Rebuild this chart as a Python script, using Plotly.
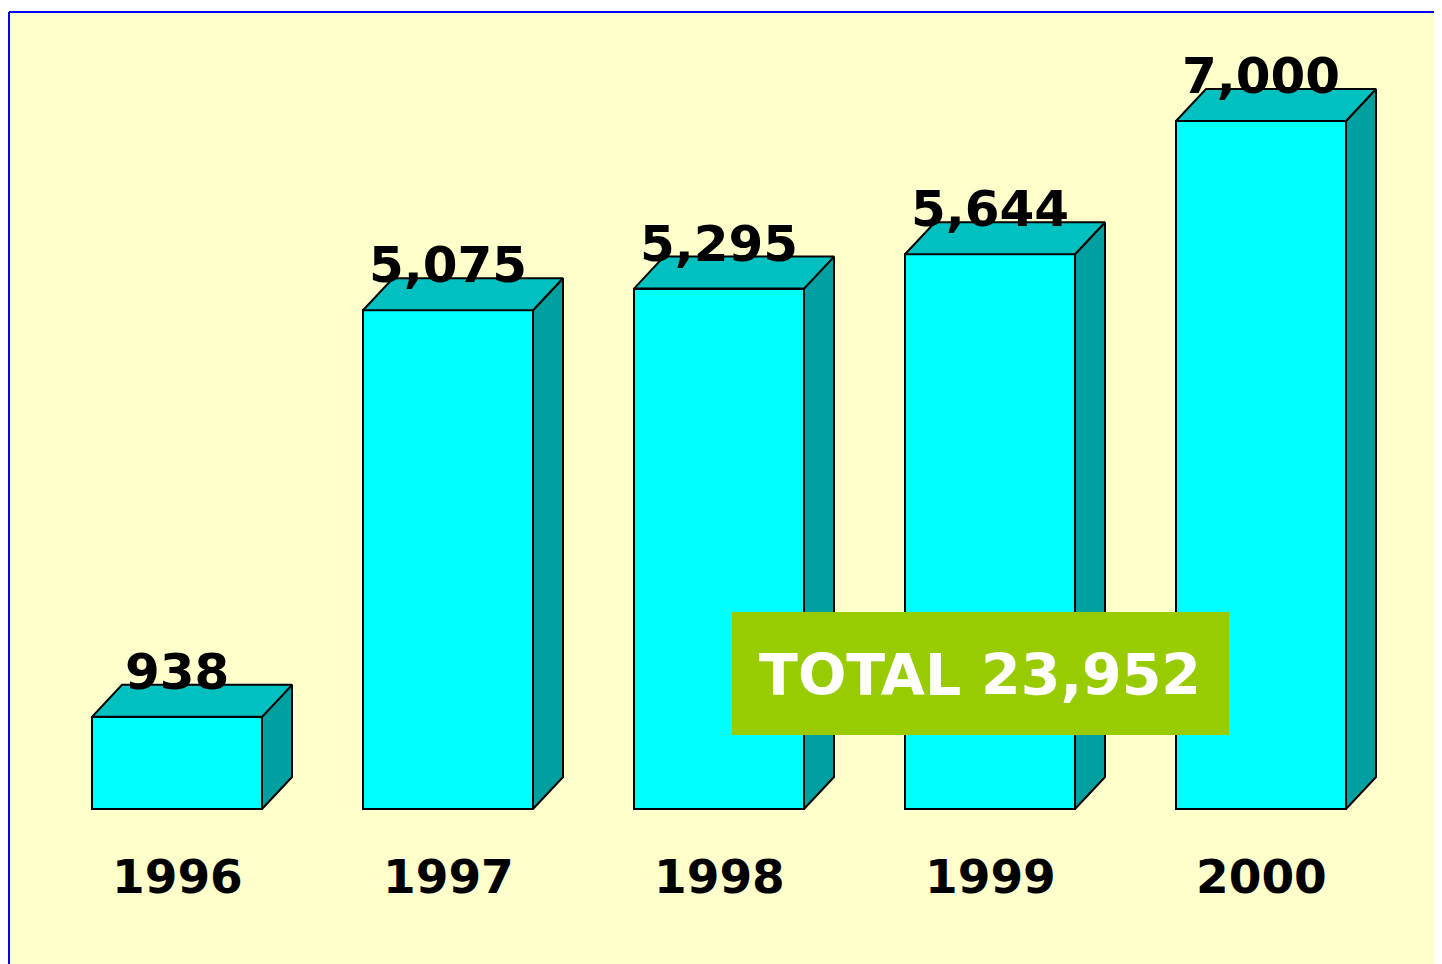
import plotly.graph_objects as go

# ---- data ----
years = ["1996", "1997", "1998", "1999", "2000"]
values = [938, 5075, 5295, 5644, 7000]
value_labels = ["938", "5,075", "5,295", "5,644", "7,000"]
total_label = "TOTAL 23,952"

# ---- layout constants (screen pixels of the reference) ----
OFF = 8                       # page body margin offset
W, H = 1442, 964 - OFF
ML, MT = 9 - OFF, 12 - OFF    # plot area starts here (blue frame)
BASE_PX = 809 - OFF           # pixel row of value 0
PX_PER_UNIT = 688 / 7000      # vertical scale
CAT_PX = 271                  # spacing between categories
FIRST_CENTER_PX = 177 - OFF
BAR_W_PX = 170
DEPTH_X_PX, DEPTH_Y_PX = 30, 32

plot_w = W - ML
plot_h = H - MT
y_span = plot_h / PX_PER_UNIT
y_max = (BASE_PX - MT) / PX_PER_UNIT
y_min = y_max - y_span
x_span = plot_w / CAT_PX
x_min = -(FIRST_CENTER_PX - ML) / CAT_PX
x_max = x_min + x_span

bw = BAR_W_PX / CAT_PX
dx = DEPTH_X_PX / CAT_PX
dy = DEPTH_Y_PX / PX_PER_UNIT

FRONT = "#00FFFF"
TOP = "#00C0C0"
SIDE = "#00A0A0"
EDGE = "#000000"
FONT = "DejaVu Sans"

fig = go.Figure()
xs = list(range(len(years)))

# side and top faces
for i, v in zip(xs, values):
    l, r = i - bw / 2, i + bw / 2
    fig.add_trace(go.Scatter(
        x=[r, r + dx, r + dx, r, r], y=[0, dy, v + dy, v, 0],
        fill="toself", fillcolor=SIDE, mode="lines",
        line=dict(color=EDGE, width=2), hoverinfo="skip", showlegend=False))
    fig.add_trace(go.Scatter(
        x=[l, l + dx, r + dx, r, l], y=[v, v + dy, v + dy, v, v],
        fill="toself", fillcolor=TOP, mode="lines",
        line=dict(color=EDGE, width=2), hoverinfo="skip", showlegend=False))

# front faces
fig.add_trace(go.Bar(
    x=xs, y=values, width=bw,
    marker=dict(color=FRONT, line=dict(color=EDGE, width=2)),
    hoverinfo="skip", showlegend=False))

# value labels
for i, v, t in zip(xs, values, value_labels):
    fig.add_annotation(x=i, y=v, text=t, showarrow=False, xref="x", yref="y",
                       yanchor="middle", yshift=45,
                       font=dict(family=FONT, size=50, color="black", weight="bold"))

# year labels
for i, yr in zip(xs, years):
    fig.add_annotation(x=i, y=0, text=yr, showarrow=False, xref="x", yref="y",
                       yanchor="middle", yshift=-(876 - 809),
                       font=dict(family=FONT, size=47, color="black", weight="bold"))

# total box
def px_x(p):
    return (p - OFF - ML) / plot_w

def px_y(p):
    return (H - (p - OFF)) / plot_h

fig.add_shape(type="rect", xref="paper", yref="paper",
              x0=px_x(732), x1=px_x(1229), y0=px_y(735), y1=px_y(612),
              fillcolor="#99CC00", line=dict(width=0), layer="above")
fig.add_annotation(xref="paper", yref="paper", x=px_x(980), y=px_y(675),
                   text=total_label, showarrow=False, xanchor="center", yanchor="middle",
                   font=dict(family=FONT, size=57, color="white", weight="bold"))

# blue frame lines (top and left)
fig.add_shape(type="line", xref="paper", yref="paper", x0=0, x1=1, y0=1, y1=1,
              line=dict(color="#0000FF", width=2), layer="above")
fig.add_shape(type="line", xref="paper", yref="paper", x0=0, x1=0, y0=0, y1=1,
              line=dict(color="#0000FF", width=2), layer="above")

fig.update_layout(
    width=W, height=H,
    margin=dict(l=ML, r=0, t=MT, b=0, pad=0),
    paper_bgcolor="white", plot_bgcolor="#FFFFCC",
    xaxis=dict(range=[x_min, x_max], visible=False, fixedrange=True),
    yaxis=dict(range=[y_min, y_max], visible=False, fixedrange=True),
    bargap=0, showlegend=False,
)

fig.write_html("out.html", config={"displayModeBar": False})
